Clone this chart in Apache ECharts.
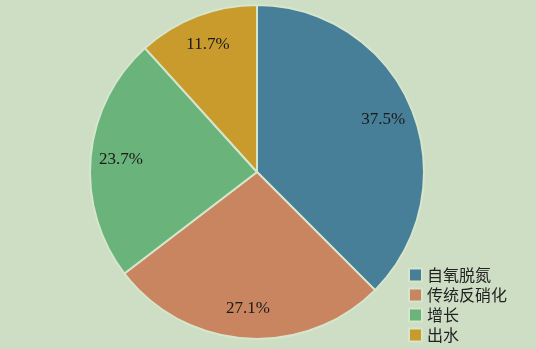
<!DOCTYPE html>
<html>
<head>
<meta charset="utf-8">
<script src="https://cdn.jsdelivr.net/npm/echarts@6/dist/echarts.min.js"></script>
<style>
  html, body { margin: 0; padding: 0; background: #cddec4; }
  #main { width: 536px; height: 349px; }
</style>
</head>
<body>
<div id="main"></div>
<script>
// 数据
var names = ['自氧脱氮', '传统反硝化', '增长', '出水'];
var values = [37.5, 27.1, 23.7, 11.7];
var colors = ['#477f99', '#c9855f', '#6ab37a', '#c99b2c'];

var data = names.map(function (n, i) {
  return { name: n, value: values[i] };
});

var myChart = echarts.init(document.getElementById('main'));

option = {
  backgroundColor: '#cddec4',
  color: colors,
  legend: {
    orient: 'vertical',
    left: 403,
    top: 262,
    height: 100,
    itemWidth: 13,
    itemHeight: 13,
    itemGap: 4,
    icon: 'rect',
    textStyle: { fontFamily: 'Noto Sans CJK SC', fontSize: 16, color: '#222' },
    data: names
  },
  series: [
    {
      // 饼图本体
      type: 'pie',
      center: [257, 172],
      radius: [0, 167],
      startAngle: 90,
      clockwise: true,
      silent: true,
      label: { show: false },
      labelLine: { show: false },
      itemStyle: { borderColor: '#d6e6cc', borderWidth: 2 },
      data: data
    },
    {
      // 透明层, 只用来放百分比标签
      type: 'pie',
      center: [257, 172],
      radius: [100, 167],
      startAngle: 90,
      clockwise: true,
      silent: true,
      itemStyle: { color: 'transparent' },
      label: {
        show: true,
        position: 'inside',
        formatter: '{c}%',
        fontFamily: 'Liberation Serif',
        fontSize: 17,
        color: '#1a1a1a'
      },
      labelLine: { show: false },
      data: data
    }
  ]
};

myChart.setOption(option);
</script>
</body>
</html>
